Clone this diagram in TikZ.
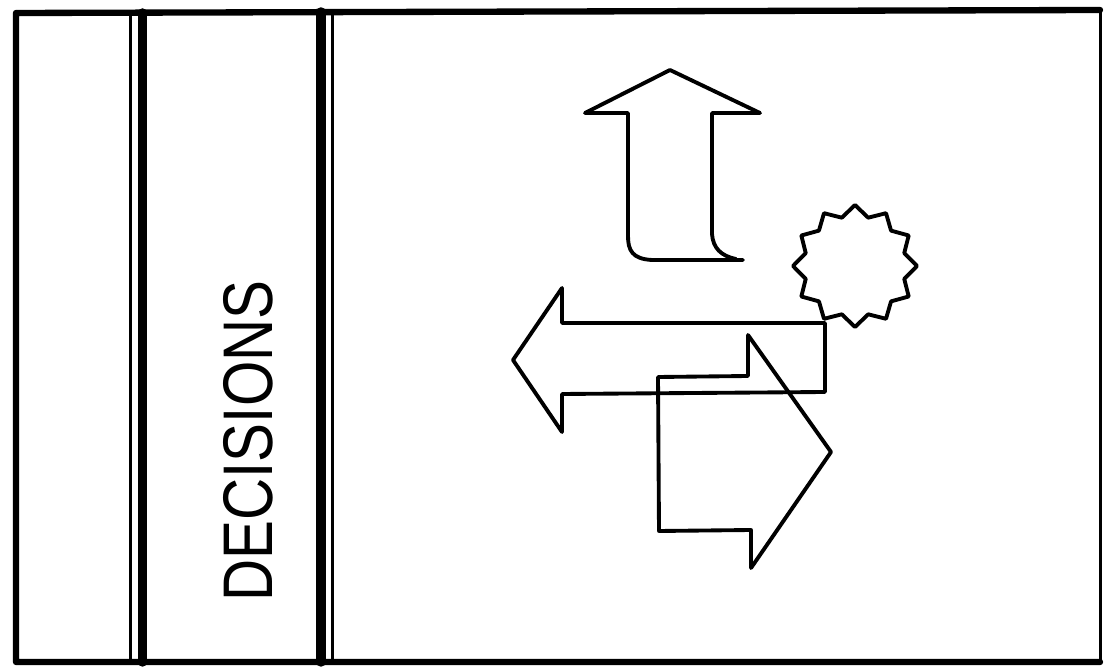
\documentclass[tikz,border=0pt]{standalone}
\usepackage{fontspec}
\usepackage{graphicx}
\setmainfont{Liberation Sans}
\begin{document}
\begin{tikzpicture}[x=0.02cm,y=-0.02cm,line join=round,line cap=round]
\tikzset{
  frameline/.style={line width=3.6pt},
  thinrule/.style={line width=1.7pt},
  thickrule/.style={line width=5.4pt},
  outline/.style={line width=2.2pt},
  lettering/.style={font=\fontsize{40}{40}\selectfont}
}
\fill[white] (0,0) rectangle (1106,668);
\useasboundingbox (0,0) rectangle (1106,668);
% frame
\draw[frameline] (1100,10) -- (16,13) -- (16,662) -- (1100,662);
\draw[thinrule] (1100,10) -- (1100,662);
% column rules
\draw[thinrule] (130.5,13) -- (130.5,662);
\draw[thickrule] (142.5,13) -- (142.5,662);
\draw[thickrule] (321,12) -- (321,662);
\draw[thinrule] (332.5,12) -- (332.5,662);
% label
\node[lettering, rotate=90, anchor=base, inner sep=0pt] (label) at (272,441)
  {\scalebox{0.83}[1]{DECISIONS}};
% up arrow
\draw[outline] (743,260) -- (652,260) .. controls (632,259) and (628,250) .. (628,236)
  -- (628,113) -- (585,113) -- (670,70) -- (760,113) -- (712,113) -- (712,234)
  .. controls (713,248) and (721,256) .. (736,259);
% starburst
\begin{scope}[shift={(855,266)}]
\draw[outline] (90:62 and 61)
  \foreach \i in {1,...,23} {
    -- ({90+\i*15}:{ifthenelse(mod(\i,2)==0,62,51)} and {ifthenelse(mod(\i,2)==0,61,50)})
  } -- cycle;
\end{scope}
% left arrow
\draw[outline] (513,360) -- (562,288) -- (562,323) -- (825,323) -- (825,392)
  -- (562,394) -- (562,432) -- cycle;
% right arrow
\draw[outline] (658,377) -- (748,376) -- (748,335) -- (831,452) -- (751,568)
  -- (751,530) -- (659,531) -- cycle;
\end{tikzpicture}
\end{document}
